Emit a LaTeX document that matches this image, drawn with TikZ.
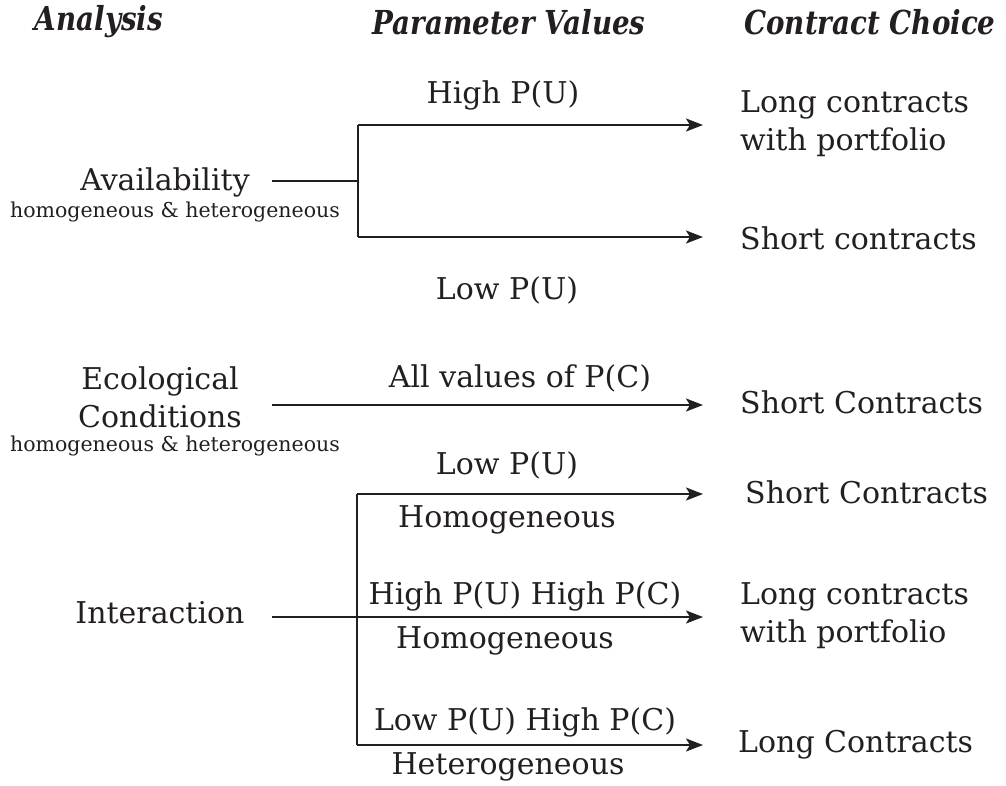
\documentclass[tikz,border=0pt]{standalone}
\usepackage{fontspec}
\setmainfont{DejaVu Serif}
\newfontfamily\hdfont{DejaVu Serif}[FakeStretch=0.84]
\usetikzlibrary{arrows.meta}
\definecolor{ink}{HTML}{231F20}
\tikzset{
  hd/.style={font=\hdfont\bfseries\itshape\fontsize{33}{36}\selectfont, text=ink, inner sep=0pt},
  lbl/.style={font=\fontsize{30}{38}\selectfont, text=ink, inner sep=0pt},
  sub/.style={font=\fontsize{20.5}{24}\selectfont, text=ink, inner sep=0pt},
  res/.style={font=\fontsize{30}{38}\selectfont, text=ink, inner sep=0pt, anchor=west, align=left},
  ln/.style={draw=ink, line width=2.2pt},
  arr/.style={ln, -{Stealth[length=17pt, width=13pt, inset=4pt]}}
}
\begin{document}
\begin{tikzpicture}[x=1pt, y=-1pt]
\useasboundingbox (0,0) rectangle (1006,785);
% headers
\node[hd] (h1) at (99,22) {Analysis};
\node[hd] (h2) at (509,22) {Parameter Values};
\node[hd] (h3) at (870,22) {Contract Choice};

% Availability
\node[lbl] (av) at (165,182) {Availability};
\node[sub] (avs) at (175,212) {homogeneous \& heterogeneous};
\coordinate (avL) at (272,181);
\coordinate (avJ) at (358,181);
\coordinate (avT) at (358,125);
\coordinate (avB) at (358,237);
\coordinate (avTE) at (703,125);
\coordinate (avBE) at (703,237);
\draw[ln] (avL) -- (avJ);
\draw[ln] (avT) -- (avB);
\draw[arr] (avT) -- (avTE);
\draw[arr] (avB) -- (avBE);
\node[lbl] (hpu) at (503,95) {High P(U)};
\node[lbl] (lpu) at (507,290) {Low P(U)};
\node[res, anchor=west] (r1) at (740,124) {Long contracts\\with portfolio};
\node[res] (r2) at (740,238) {Short contracts};

% Ecological conditions
\node[lbl, align=center] (ec) at (160,397) {Ecological\\Conditions};
\node[sub] (ecs) at (175,446) {homogeneous \& heterogeneous};
\coordinate (ecL) at (272,405);
\coordinate (ecE) at (703,405);
\draw[arr] (ecL) -- (ecE);
\node[lbl] (apc) at (520,378) {All values of P(C)};
\node[res] (r3) at (740,402) {Short Contracts};

% Interaction
\node[lbl] (in) at (160,613) {Interaction};
\coordinate (inL) at (272,617);
\coordinate (inT) at (357,494);
\coordinate (inB) at (357,745);
\coordinate (inTE) at (703,494);
\coordinate (inME) at (703,617);
\coordinate (inBE) at (703,745);
\draw[ln] (inT) -- (inB);
\draw[arr] (inT) -- (inTE);
\draw[arr] (inL) -- (inME);
\draw[arr] (inB) -- (inBE);
\node[lbl] (l1a) at (507,465) {Low P(U)};
\node[lbl] (l1b) at (507,520) {Homogeneous};
\node[lbl] (l2a) at (525,596) {High P(U) High P(C)};
\node[lbl] (l2b) at (505,641) {Homogeneous};
\node[lbl] (l3a) at (525,722) {Low P(U) High P(C)};
\node[lbl] (l3b) at (508,767) {Heterogeneous};
\node[res] (r4) at (745,492) {Short Contracts};
\node[res] (r5) at (740,616) {Long contracts\\with portfolio};
\node[res] (r6) at (738,745) {Long Contracts};
\end{tikzpicture}
\end{document}
